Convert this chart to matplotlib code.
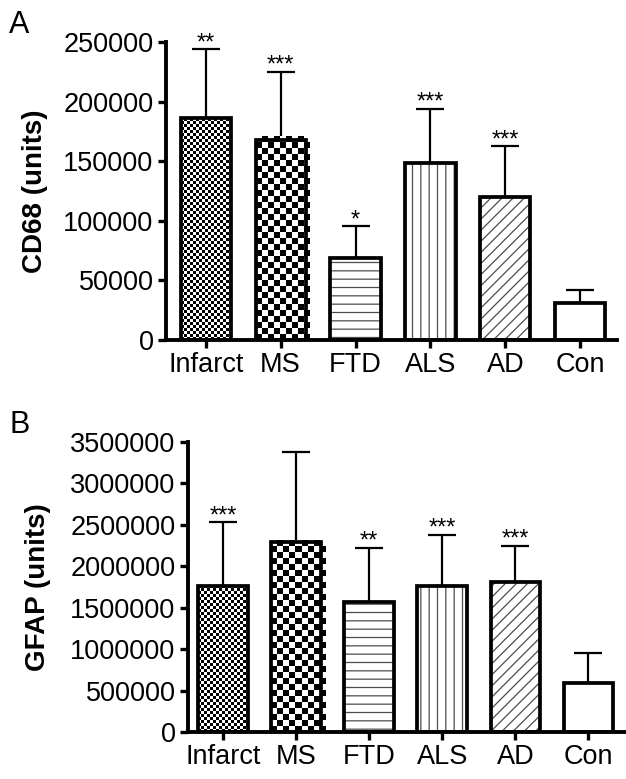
import numpy as np
import matplotlib
matplotlib.use('Agg')
import matplotlib.pyplot as plt

plt.rcParams['font.family'] = ['Liberation Sans', 'DejaVu Sans']
plt.rcParams['hatch.linewidth'] = 0.9

groups = ['Infarct', 'MS', 'FTD', 'ALS', 'AD', 'Con']

cd68_mean = [186000, 168000, 68800, 148500, 120000, 31000]
cd68_err = [58000, 57000, 26800, 45300, 42700, 11000]
cd68_stars = ['**', '***', '*', '***', '***', '']
cd68_ticks = [0, 50000, 100000, 150000, 200000, 250000]

gfap_mean = [1762000, 2293000, 1569000, 1762000, 1810000, 591000]
gfap_err = [772000, 1086000, 652000, 616000, 435000, 362000]
gfap_stars = ['***', '', '**', '***', '***', '']
gfap_ticks = [0, 500000, 1000000, 1500000, 2000000, 2500000, 3000000, 3500000]

# fill style per group: ('checker', square px) or hatch string
fills = [('checker', 3), ('checker', 6), ('hatch', '--'), ('hatch', '||'),
         ('hatch', '///'), ('hatch', '')]


def checker(ax, bar, px):
    x0 = bar.get_x()
    x1 = x0 + bar.get_width()
    (p0x, p0y), (p1x, p1y) = ax.transData.transform([[x0, 0], [x1, bar.get_height()]])
    nx = int(np.ceil((p1x - p0x) / px))
    ny = int(np.ceil((p1y - p0y) / px))
    grid = np.indices((ny, nx)).sum(axis=0) % 2
    inv = ax.transData.inverted()
    (d0x, d0y), (d1x, d1y) = inv.transform([[p0x, p0y], [p0x + nx * px, p0y + ny * px]])
    ax.imshow(grid, extent=(d0x, d1x, d0y, d1y), origin='lower', cmap='gray',
              interpolation='nearest', aspect='auto', clip_path=bar, zorder=2.2)


def panel(ax, means, errs, stars, ticks, ylabel, width, xlim, lab_x):
    x = np.arange(len(groups))
    ax.set_xlim(*xlim)
    ax.set_ylim(0, ticks[-1])
    bars = ax.bar(x, means, width, color='white', edgecolor='0.3', linewidth=0, zorder=2)
    for b, (kind, val) in zip(bars, fills):
        if kind == 'hatch':
            b.set_hatch(val)
        else:
            checker(ax, b, val)
    ax.errorbar(x, means, yerr=[np.zeros(len(x)), errs], fmt='none', ecolor='black',
                elinewidth=1.6, capsize=10, capthick=1.6, zorder=1.5)
    ax.bar(x, means, width, fill=False, edgecolor='black', linewidth=2.7, zorder=3)
    for xi, m, e, s in zip(x, means, errs, stars):
        if s:
            ax.annotate(s, (xi, m + e), xytext=(0, 0), textcoords='offset points',
                        ha='center', va='baseline', fontsize=17)
    ax.set_xlim(*xlim)
    ax.set_ylim(0, ticks[-1])
    ax.set_xticks(x)
    ax.set_xticklabels(groups)
    ax.set_yticks(ticks)
    ax.set_yticklabels([str(t) for t in ticks])
    for s in ['top', 'right']:
        ax.spines[s].set_visible(False)
    for s in ['left', 'bottom']:
        ax.spines[s].set_linewidth(2.8)
    ax.tick_params(direction='out', length=6, width=2.4, labelsize=19.5, pad=3)
    ax.set_ylabel(ylabel, fontsize=20, fontweight='bold')
    ax.yaxis.set_label_coords(lab_x, 0.5)


fig = plt.figure(figsize=(6.26, 7.79), dpi=100)
axA = fig.add_axes([166 / 626, 1 - 340 / 779, 451 / 626, 298 / 779])
axB = fig.add_axes([188 / 626, 1 - 732 / 779, 437 / 626, 290 / 779])

panel(axA, cd68_mean, cd68_err, cd68_stars, cd68_ticks, 'CD68 (units)', 0.67, (-0.53, 5.49), -0.262)
panel(axB, gfap_mean, gfap_err, gfap_stars, gfap_ticks, 'GFAP (units)', 0.68, (-0.48, 5.5), -0.314)

fig.text(9 / 626, 1 - 33 / 779, 'A', fontsize=22, va='baseline')
fig.text(10 / 626, 1 - 433 / 779, 'B', fontsize=22, va='baseline')

fig.savefig('out.png', dpi=100)
